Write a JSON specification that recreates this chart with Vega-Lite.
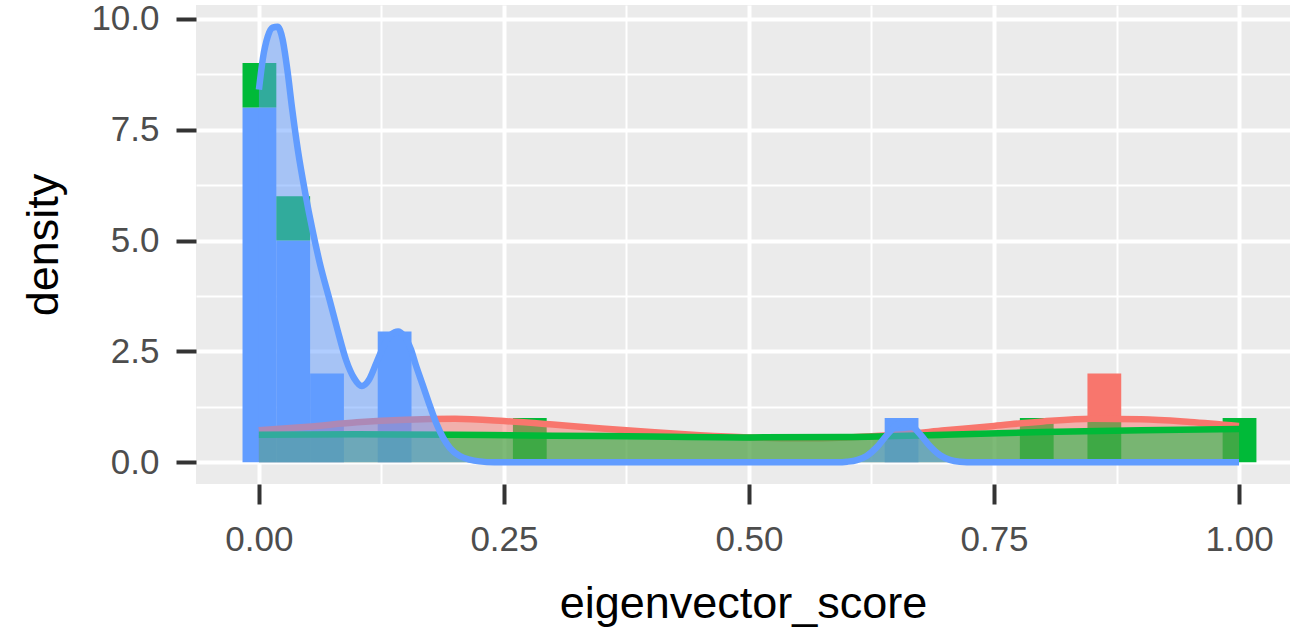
{
  "$schema": "https://vega.github.io/schema/vega-lite/v6.json",
  "width": 1094,
  "height": 479,
  "autosize": "none",
  "padding": {"left": 196, "top": 5, "right": 16, "bottom": 150},
  "background": "white",
  "config": {
    "view": {"fill": "#EBEBEB", "stroke": null},
    "font": "Liberation Sans"
  },
  "datasets": {
    "bars": [
      {"group": "group3", "bin_start": -0.01724, "bin_end": 0.01724, "density": 8.0},
      {"group": "group2", "bin_start": -0.01724, "bin_end": 0.01724, "density": 1.0},
      {"group": "group3", "bin_start": 0.01724, "bin_end": 0.05172, "density": 5.0},
      {"group": "group2", "bin_start": 0.01724, "bin_end": 0.05172, "density": 1.0},
      {"group": "group3", "bin_start": 0.05172, "bin_end": 0.08621, "density": 2.0},
      {"group": "group3", "bin_start": 0.12069, "bin_end": 0.15517, "density": 2.95},
      {"group": "group2", "bin_start": 0.25862, "bin_end": 0.2931, "density": 1.0},
      {"group": "group3", "bin_start": 0.63793, "bin_end": 0.67241, "density": 1.0},
      {"group": "group2", "bin_start": 0.77586, "bin_end": 0.81034, "density": 1.0},
      {"group": "group2", "bin_start": 0.84483, "bin_end": 0.87931, "density": 1.0},
      {"group": "group1", "bin_start": 0.84483, "bin_end": 0.87931, "density": 1.0},
      {"group": "group2", "bin_start": 0.98276, "bin_end": 1.01724, "density": 1.0}
    ],
    "dens": [
      {"group": "group1", "x": 0.0, "density": 0.72},
      {"group": "group1", "x": 0.05, "density": 0.8},
      {"group": "group1", "x": 0.1, "density": 0.9},
      {"group": "group1", "x": 0.15, "density": 0.96},
      {"group": "group1", "x": 0.2, "density": 0.98},
      {"group": "group1", "x": 0.25, "density": 0.93},
      {"group": "group1", "x": 0.3, "density": 0.85},
      {"group": "group1", "x": 0.35, "density": 0.76},
      {"group": "group1", "x": 0.4, "density": 0.68},
      {"group": "group1", "x": 0.45, "density": 0.61},
      {"group": "group1", "x": 0.5, "density": 0.56},
      {"group": "group1", "x": 0.55, "density": 0.54},
      {"group": "group1", "x": 0.6, "density": 0.56},
      {"group": "group1", "x": 0.65, "density": 0.62},
      {"group": "group1", "x": 0.7, "density": 0.72},
      {"group": "group1", "x": 0.75, "density": 0.82},
      {"group": "group1", "x": 0.8, "density": 0.92},
      {"group": "group1", "x": 0.85, "density": 0.98},
      {"group": "group1", "x": 0.9, "density": 0.97},
      {"group": "group1", "x": 0.95, "density": 0.91},
      {"group": "group1", "x": 1.0, "density": 0.82},
      {"group": "group2", "x": 0.0, "density": 0.62},
      {"group": "group2", "x": 0.1, "density": 0.63},
      {"group": "group2", "x": 0.2, "density": 0.62},
      {"group": "group2", "x": 0.3, "density": 0.6},
      {"group": "group2", "x": 0.4, "density": 0.58},
      {"group": "group2", "x": 0.5, "density": 0.56},
      {"group": "group2", "x": 0.6, "density": 0.57},
      {"group": "group2", "x": 0.7, "density": 0.62},
      {"group": "group2", "x": 0.8, "density": 0.68},
      {"group": "group2", "x": 0.9, "density": 0.72},
      {"group": "group2", "x": 1.0, "density": 0.75},
      {"group": "group3", "x": 0.0, "density": 8.4},
      {"group": "group3", "x": 0.004, "density": 9.1},
      {"group": "group3", "x": 0.009, "density": 9.6},
      {"group": "group3", "x": 0.014, "density": 9.8},
      {"group": "group3", "x": 0.019, "density": 9.82},
      {"group": "group3", "x": 0.024, "density": 9.55},
      {"group": "group3", "x": 0.029, "density": 8.85},
      {"group": "group3", "x": 0.034, "density": 7.95},
      {"group": "group3", "x": 0.04, "density": 7.0},
      {"group": "group3", "x": 0.047, "density": 6.1},
      {"group": "group3", "x": 0.055, "density": 5.2},
      {"group": "group3", "x": 0.062, "density": 4.5},
      {"group": "group3", "x": 0.072, "density": 3.67},
      {"group": "group3", "x": 0.08, "density": 3.0},
      {"group": "group3", "x": 0.089, "density": 2.3},
      {"group": "group3", "x": 0.097, "density": 1.9},
      {"group": "group3", "x": 0.105, "density": 1.72},
      {"group": "group3", "x": 0.112, "density": 1.85},
      {"group": "group3", "x": 0.12, "density": 2.25},
      {"group": "group3", "x": 0.128, "density": 2.65},
      {"group": "group3", "x": 0.135, "density": 2.88},
      {"group": "group3", "x": 0.142, "density": 2.95},
      {"group": "group3", "x": 0.148, "density": 2.85},
      {"group": "group3", "x": 0.155, "density": 2.55},
      {"group": "group3", "x": 0.16, "density": 2.2},
      {"group": "group3", "x": 0.167, "density": 1.75},
      {"group": "group3", "x": 0.174, "density": 1.3},
      {"group": "group3", "x": 0.181, "density": 0.88},
      {"group": "group3", "x": 0.188, "density": 0.55},
      {"group": "group3", "x": 0.195, "density": 0.32},
      {"group": "group3", "x": 0.205, "density": 0.14},
      {"group": "group3", "x": 0.215, "density": 0.06},
      {"group": "group3", "x": 0.225, "density": 0.02},
      {"group": "group3", "x": 0.24, "density": 0.0},
      {"group": "group3", "x": 0.59, "density": 0.0},
      {"group": "group3", "x": 0.6, "density": 0.012},
      {"group": "group3", "x": 0.61, "density": 0.048},
      {"group": "group3", "x": 0.62, "density": 0.143},
      {"group": "group3", "x": 0.63, "density": 0.33},
      {"group": "group3", "x": 0.64, "density": 0.595},
      {"group": "group3", "x": 0.65, "density": 0.83},
      {"group": "group3", "x": 0.658, "density": 0.9},
      {"group": "group3", "x": 0.665, "density": 0.845},
      {"group": "group3", "x": 0.675, "density": 0.62},
      {"group": "group3", "x": 0.685, "density": 0.355},
      {"group": "group3", "x": 0.695, "density": 0.157},
      {"group": "group3", "x": 0.705, "density": 0.054},
      {"group": "group3", "x": 0.715, "density": 0.014},
      {"group": "group3", "x": 0.73, "density": 0.0},
      {"group": "group3", "x": 1.0, "density": 0.0}
    ]
  },
  "layer": [
    {
      "data": {"name": "bars"},
      "mark": {"type": "bar", "binSpacing": 0},
      "encoding": {
        "x": {
          "field": "bin_start", "type": "quantitative", "bin": "binned",
          "scale": {"domain": [-0.0642, 1.052], "nice": false, "zero": false},
          "title": "eigenvector_score",
          "axis": {
            "values": [0, 0.125, 0.25, 0.375, 0.5, 0.625, 0.75, 0.875, 1],
            "labelExpr": "datum.value % 0.25 === 0 ? format(datum.value, '.2f') : ''",
            "grid": true, "gridColor": "white",
            "gridWidth": {"condition": {"test": "datum.value % 0.25 === 0", "value": 4}, "value": 2},
            "domain": false,
            "tickColor": "#333333", "tickWidth": 4, "tickSize": 20,
            "tickOpacity": {"condition": {"test": "datum.value % 0.25 === 0", "value": 1}, "value": 0},
            "labelFont": "Liberation Sans", "labelFontSize": 35, "labelColor": "#4D4D4D", "labelPadding": 18,
            "labelFlush": false, "labelOverlap": false,
            "titleFont": "Liberation Sans", "titleFontSize": 45, "titleFontWeight": "normal", "titleColor": "black", "titlePadding": 24
          }
        },
        "x2": {"field": "bin_end"},
        "y": {
          "field": "density", "type": "quantitative", "stack": "zero",
          "scale": {"domain": [-0.49, 10.31], "nice": false, "zero": false},
          "title": "density",
          "axis": {
            "values": [0, 1.25, 2.5, 3.75, 5, 6.25, 7.5, 8.75, 10],
            "labelExpr": "datum.value % 2.5 === 0 ? format(datum.value, '.1f') : ''",
            "grid": true, "gridColor": "white",
            "gridWidth": {"condition": {"test": "datum.value % 2.5 === 0", "value": 4}, "value": 2},
            "domain": false,
            "tickColor": "#333333", "tickWidth": 4, "tickSize": 20,
            "tickOpacity": {"condition": {"test": "datum.value % 2.5 === 0", "value": 1}, "value": 0},
            "labelFont": "Liberation Sans", "labelFontSize": 35, "labelColor": "#4D4D4D", "labelPadding": 17,
            "labelFlush": false, "labelOverlap": false,
            "titleFont": "Liberation Sans", "titleFontSize": 45, "titleFontWeight": "normal", "titleColor": "black", "titlePadding": 24
          }
        },
        "color": {
          "field": "group", "type": "nominal",
          "scale": {"domain": ["group1", "group2", "group3"], "range": ["#F8766D", "#00BA38", "#619CFF"]},
          "legend": null
        },
        "order": {"field": "group", "sort": "descending"}
      }
    },
    {
      "data": {"name": "dens"},
      "transform": [{"filter": "datum.group === 'group1'"}],
      "mark": {"type": "area", "color": "#F8766D", "fillOpacity": 0.5, "interpolate": "monotone"},
      "encoding": {
        "x": {"field": "x", "type": "quantitative", "title": "eigenvector_score"},
        "y": {"field": "density", "type": "quantitative", "stack": null, "title": "density"}
      }
    },
    {
      "data": {"name": "dens"},
      "transform": [{"filter": "datum.group === 'group1'"}],
      "mark": {"type": "line", "color": "#F8766D", "strokeWidth": 6.5, "interpolate": "monotone"},
      "encoding": {
        "x": {"field": "x", "type": "quantitative", "title": "eigenvector_score"},
        "y": {"field": "density", "type": "quantitative", "title": "density"}
      }
    },
    {
      "data": {"name": "dens"},
      "transform": [{"filter": "datum.group === 'group2'"}],
      "mark": {"type": "area", "color": "#00BA38", "fillOpacity": 0.5, "interpolate": "monotone"},
      "encoding": {
        "x": {"field": "x", "type": "quantitative", "title": "eigenvector_score"},
        "y": {"field": "density", "type": "quantitative", "stack": null, "title": "density"}
      }
    },
    {
      "data": {"name": "dens"},
      "transform": [{"filter": "datum.group === 'group2'"}],
      "mark": {"type": "line", "color": "#00BA38", "strokeWidth": 6.5, "interpolate": "monotone"},
      "encoding": {
        "x": {"field": "x", "type": "quantitative", "title": "eigenvector_score"},
        "y": {"field": "density", "type": "quantitative", "title": "density"}
      }
    },
    {
      "data": {"name": "dens"},
      "transform": [{"filter": "datum.group === 'group3'"}],
      "mark": {"type": "area", "color": "#619CFF", "fillOpacity": 0.5, "interpolate": "monotone"},
      "encoding": {
        "x": {"field": "x", "type": "quantitative", "title": "eigenvector_score"},
        "y": {"field": "density", "type": "quantitative", "stack": null, "title": "density"}
      }
    },
    {
      "data": {"name": "dens"},
      "transform": [{"filter": "datum.group === 'group3'"}],
      "mark": {"type": "line", "color": "#619CFF", "strokeWidth": 6.5, "interpolate": "monotone"},
      "encoding": {
        "x": {"field": "x", "type": "quantitative", "title": "eigenvector_score"},
        "y": {"field": "density", "type": "quantitative", "title": "density"}
      }
    }
  ]
}
